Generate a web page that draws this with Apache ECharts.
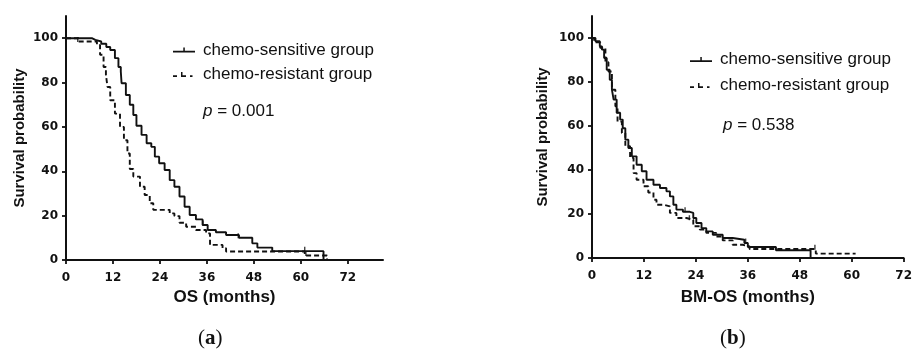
<!DOCTYPE html>
<html>
<head>
<meta charset="utf-8">
<script src="https://cdn.jsdelivr.net/npm/echarts@6/dist/echarts.min.js"></script>
<style>
  html, body { margin: 0; padding: 0; background: #fff; }
  #main { width: 915px; height: 354px; }
</style>
</head>
<body>
<div id="main"></div>
<script>
// Kaplan-Meier curves, [months, survival %]
var osSensitive = [[0,100],[6.6,99.2],[7.5,98.5],[9,97.5],[10.3,96],[11.3,94.7],[12.5,91],[13.4,87],[14,85],[14.2,79.7],
  [15.3,74.4],[16.3,70],[17.2,65.4],[18,60.5],[19.3,56.4],[20.6,52.6],[21.8,51],[22.7,46.6],[23.8,43.6],[25.2,40.6],
  [26.5,36],[27.7,33],[29,28.6],[30.3,24],[31.6,20.3],[33.2,18.3],[34.9,15.8],[36.2,13.5],[38.3,12.5],[40.9,11.3],
  [44.2,10],[47.6,7.5],[48.9,5.6],[52.7,4],[65.8,0]];
var osResistant = [[0,100],[3.2,98.5],[7.9,97],[8.7,92.5],[9.6,87],[10.2,83.5],[10.6,78],[11.3,72],[12.5,66],[13.8,60],
  [14.8,54],[15.7,48],[16.3,41],[17.2,37.6],[18.9,33],[20.1,29.3],[21.4,25.6],[22.3,22.6],[26.5,21],[27.7,19.8],
  [29,16.8],[30.7,15],[33.2,13.5],[35.8,12],[36.8,6.8],[40,5.3],[40.9,3.8],[61,2],[66.7,0]];
var bmSensitive = [[0,100],[0.8,98.5],[1.8,96.2],[2.3,94.7],[2.8,90.9],[3.4,85.6],[4.1,81],[4.6,76.5],[5,72],[5.7,66],
  [6.5,62.9],[7.1,59],[7.7,53.8],[8.4,50],[9.2,46.2],[10.3,42.4],[11.5,39.4],[12.6,35.6],[14.2,33.3],[15.7,31.8],
  [17.2,30.3],[18,28],[18.8,24.2],[19.5,22],[21,21],[22.6,20.5],[23.4,18.2],[24.1,15.9],[25.3,13.6],[26.4,12.1],
  [27.9,10.6],[30.2,9.1],[32.5,8.3],[35.2,6.8],[36,5],[42.5,3.5],[50.5,0]];
var bmResistant = [[0,100],[0.5,98],[1.9,95.5],[3.1,89],[3.8,84.8],[4.6,76.5],[5.4,69],[5.9,62],[6.9,56.8],[7.7,50.8],
  [8.8,45.5],[9.6,38.6],[10.3,35.6],[11.9,32.6],[13,29.8],[14.2,26.5],[14.9,24.2],[16.5,23.5],[18,20.5],[19.5,18.2],
  [21.8,17.4],[23.4,14.4],[24.9,12.9],[26.4,11.4],[28.7,9.8],[30.2,8],[32.5,6],[34.8,5.3],[36.4,4.1],[51.7,2],[60.9,2]];

// censored observations
var osSensCens = [[35,15.8],[44,10],[61,4]];
var osResCens = [[3,98.5],[61.3,2]];
var bmSensCens = [[35.5,6.8],[21.5,21]];
var bmResCens = [[51.5,4],[22.5,17.4]];

var xTicks = [0, 12, 24, 36, 48, 60, 72];
var yTicks = [0, 20, 40, 60, 80, 100];
var groupNames = ['chemo-sensitive group', 'chemo-resistant group'];
var pValues = ['0.001', '0.538'];
var xTitles = ['OS (months)', 'BM-OS (months)'];

var tickFont = { fontFamily: 'DejaVu Sans', fontWeight: 'bold', fontSize: 12, color: '#111' };
var yNameFont = { fontFamily: 'Liberation Sans', fontWeight: 'bold', fontSize: 15, color: '#111' };
var xNameFont = { fontFamily: 'Liberation Sans', fontWeight: 'bold', fontSize: 17, color: '#111' };

function xAxisFor(idx, max, gap) {
  return {
    gridIndex: idx, type: 'value', min: 0, max: max,
    name: xTitles[idx], nameLocation: 'middle', nameGap: gap, nameTextStyle: xNameFont,
    axisLine: { lineStyle: { color: '#111', width: 2 } },
    axisTick: { length: 4, lineStyle: { width: 1.8, color: '#111' }, customValues: xTicks },
    axisLabel: Object.assign({ margin: 12, customValues: xTicks }, tickFont),
    splitLine: { show: false }
  };
}
function yAxisFor(idx, gap) {
  return {
    gridIndex: idx, type: 'value', min: 0, max: 110,
    name: 'Survival probability', nameLocation: 'middle', nameGap: gap, nameTextStyle: yNameFont,
    axisLine: { lineStyle: { color: '#111', width: 2 } },
    axisTick: { length: 4, lineStyle: { width: 1.8, color: '#111' }, customValues: yTicks },
    axisLabel: Object.assign({ margin: 8, customValues: yTicks }, tickFont),
    splitLine: { show: false }
  };
}
function curve(name, idx, data, dashed) {
  return {
    name: name, type: 'line', step: 'end', xAxisIndex: idx, yAxisIndex: idx,
    data: data, showSymbol: false, silent: true,
    color: '#111',
    lineStyle: { color: '#111', width: 1.9, type: dashed ? [5, 3] : 'solid' }
  };
}
function censor(idx, data) {
  return {
    name: 'censored', type: 'scatter', xAxisIndex: idx, yAxisIndex: idx,
    data: data, symbol: 'rect', symbolSize: [1.4, 5], symbolOffset: [0, -2],
    itemStyle: { color: '#111' }, silent: true
  };
}

var solidIcon = 'path://M0,3.3h22v1.7h-22z M10.3,0h1.5v3.3h-1.5z';
var dashIcon = 'path://M0,3.3h4v1.7h-4z M8,3.3h5v1.7h-5z M8,0h1.5v3.3h-1.5z M17,3.3h2.5v1.7h-2.5z M21.9,4h0.1v0.1h-0.1z';

function legendFor(left, top, gap) {
  return {
    orient: 'vertical', left: left, top: top, itemWidth: 22, itemHeight: 5, itemGap: gap,
    selectedMode: false,
    itemStyle: { borderWidth: 0 },
    textStyle: { fontFamily: 'Liberation Sans', fontSize: 17, color: '#111', lineHeight: 18, padding: [0, 0, 0, 3] },
    data: [{ name: groupNames[0], icon: solidIcon }, { name: groupNames[1], icon: dashIcon }]
  };
}
function pText(x, y, p) {
  return {
    type: 'text', left: x, top: y,
    style: {
      text: '{i|p} = ' + p,
      font: '17px "Liberation Sans"', fill: '#111',
      rich: { i: { fontStyle: 'italic', fontFamily: 'Liberation Sans', fontSize: 17, fill: '#111' } }
    }
  };
}
function panelLabel(x, y, letter) {
  return {
    type: 'text', left: x, top: y,
    style: {
      text: '{n|(}{b|' + letter + '}{n|)}',
      rich: {
        n: { fontFamily: 'Liberation Serif', fontSize: 21, fill: '#111' },
        b: { fontFamily: 'Liberation Serif', fontSize: 21, fontWeight: 'bold', fill: '#111' }
      }
    }
  };
}

var chart = echarts.init(document.getElementById('main'), null, { renderer: 'canvas' });
chart.setOption({
  animation: false,
  backgroundColor: '#fff',
  grid: [
    { left: 66, right: 532, top: 16, bottom: 94 },
    { left: 592, right: 10, top: 16, bottom: 96 }
  ],
  xAxis: [xAxisFor(0, 81, 29), xAxisFor(1, 72, 31)],
  yAxis: [yAxisFor(0, 39), yAxisFor(1, 42)],
  legend: [legendFor(168, 36, 6.5), legendFor(685, 45.5, 8)],
  graphic: [
    pText(203, 103, pValues[0]),
    pText(723, 117, pValues[1]),
    panelLabel(198, 328, 'a'),
    panelLabel(720, 328, 'b')
  ],
  series: [
    curve(groupNames[0], 0, osSensitive, false),
    curve(groupNames[1], 0, osResistant, true),
    censor(0, osSensCens),
    censor(0, osResCens),
    curve(groupNames[0], 1, bmSensitive, false),
    curve(groupNames[1], 1, bmResistant, true),
    censor(1, bmSensCens),
    censor(1, bmResCens)
  ]
});
</script>
</body>
</html>
